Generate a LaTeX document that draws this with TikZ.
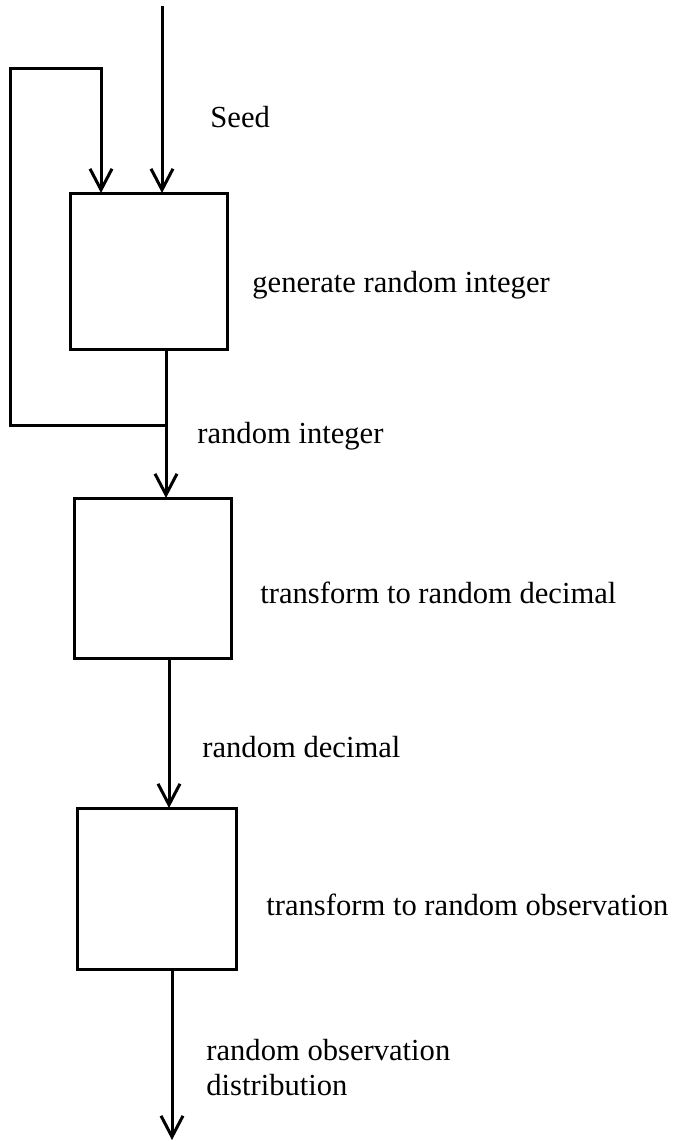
\documentclass[tikz,border=0pt]{standalone}
\usepackage{amsmath}
\usepackage{fontspec}
\setmainfont{Liberation Serif}
\usepackage{tikz}
\usetikzlibrary{arrows.meta}

\begin{document}
\begin{tikzpicture}[x=0.5pt, y=-0.5pt,
    stage/.style={draw, line width=1.5pt, inner sep=0pt, outer sep=0pt},
    flow/.style={line width=1.5pt, -{Straight Barb[length=10.5pt, width=11pt, line width=1.5pt]}},
    lbl/.style={anchor=base west, inner sep=0pt, align=left, font=\fontsize{15.3}{17.5}\selectfont}]
    \useasboundingbox (0,0) rectangle (681,1141);

    % Draw the three stages
    \node[stage, minimum width=78.5pt, minimum height=78pt] (gen) at (148.5,271) {};
    \node[stage, minimum width=78.5pt, minimum height=80pt] (dec) at (152.5,578) {};
    \node[stage, minimum width=79.5pt, minimum height=80.5pt] (obs) at (156.5,888.5) {};

    % Points for the connectors
    \coordinate (seedin) at (162,6);
    \coordinate (fb) at (166,425);
    \coordinate (fbleft) at (10,68);
    \coordinate (fbin) at (101,0);
    \coordinate (trunk) at (169,0);
    \coordinate (out) at (172,1140);

    % Draw the connectors
    \draw[flow] (seedin) -- (seedin |- gen.north);
    \draw[flow] (fb) -| (fbleft) -| (gen.north -| fbin);
    \draw[flow] (gen.south -| fb) -- (dec.north -| fb);
    \draw[flow] (dec.south -| trunk) -- (obs.north -| trunk);
    \draw[flow] (obs.south -| out) -- (out);

    % Labels
    \node[lbl] (seedlbl) at (210,127) {Seed};
    \node[lbl] (genlbl) at (252,292) {generate random integer};
    \node[lbl] (intlbl) at (197,443) {random integer};
    \node[lbl] (declbl) at (260,603) {transform to random decimal};
    \node[lbl] (rdlbl) at (202,757) {random decimal};
    \node[lbl] (obslbl) at (266,915) {transform to random observation};
    \node[lbl] (outlbl) at (206,1095) {random observation\\distribution};
\end{tikzpicture}
\end{document}
